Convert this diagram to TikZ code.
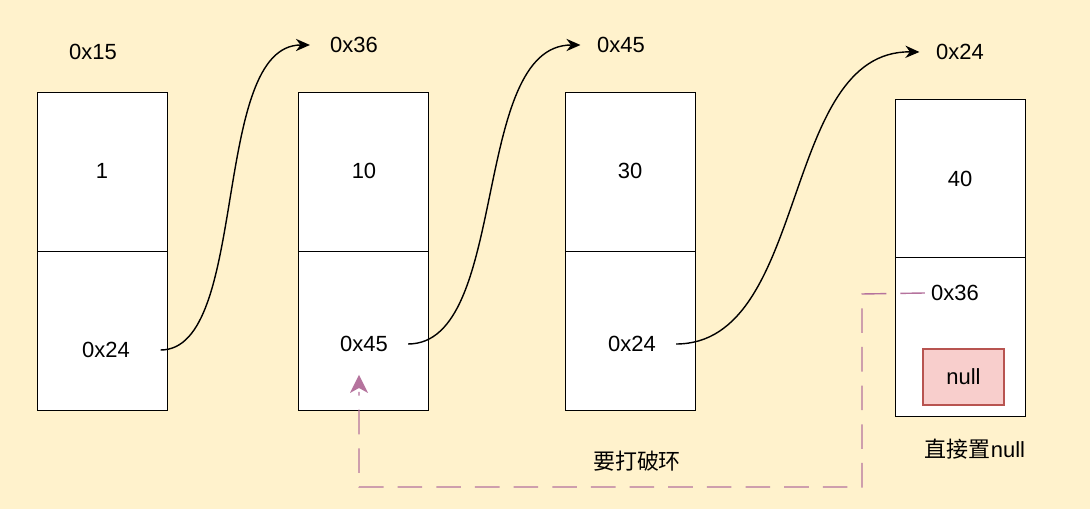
\documentclass[tikz,border=0pt]{standalone}
\usepackage{fontspec}
\setmainfont{Liberation Sans}
\newfontfamily\cjk{Noto Sans CJK SC}
\usetikzlibrary{arrows.meta,positioning}
\definecolor{bgyellow}{HTML}{FFF2CC}
\definecolor{nullfill}{HTML}{F8CECC}
\definecolor{nulldraw}{HTML}{B85450}
\definecolor{breakline}{HTML}{B5739D}
\tikzset{
  lbl/.style={font=\fontsize{12.5}{15}\selectfont},
  link/.style={-{Stealth[length=8pt,width=7pt]}, thick},
}
\begin{document}
\begin{tikzpicture}[x=0.02cm,y=-0.02cm]
    \fill[bgyellow] (0,0) rectangle (1090,509);

    % list nodes
    \draw[fill=white] (37,92) rectangle (167,410) (37,251) -- (167,251);
    \draw[fill=white] (298,92) rectangle (428,410) (298,251) -- (428,251);
    \draw[fill=white] (565,92) rectangle (695,410) (565,251) -- (695,251);
    \draw[fill=white] (895,99) rectangle (1025,416) (895,257) -- (1025,257);
    \node[lbl] (vala) at (102,171) {1};
    \node[lbl] (valb) at (364,171) {10};
    \node[lbl] (valc) at (630,171) {30};
    \node[lbl] (vald) at (960,179) {40};

    % addresses
    \node[lbl] (adra) at (93,52) {0x15};
    \node[lbl] (adrb) at (354,45) {0x36};
    \node[lbl] (adrc) at (621,45) {0x45};
    \node[lbl] (adrd) at (960,52) {0x24};

    % next pointers
    \node[lbl] (nexta) at (106,350) {0x24};
    \node[lbl] (nextb) at (364,344) {0x45};
    \node[lbl] (nextc) at (632,344) {0x24};
    \node[lbl] (nextd) at (955,293) {0x36};
    \node[draw=nulldraw, fill=nullfill, thick, minimum width=1.62cm, minimum height=1.12cm, lbl] (null) at (963.5,377) {null};

    % links
    \draw[link] ([xshift=14pt]nexta.east) .. controls (250,350) and (210,45) .. ([xshift=-8pt]adrb.west);
    \draw[link] ([xshift=8pt]nextb.east) .. controls (510,344) and (470,45) .. ([xshift=-6pt]adrc.west);
    \draw[link] ([xshift=8pt]nextc.east) .. controls (810,344) and (780,50) .. ([xshift=-6pt]adrd.west);

    % cycle to break
    \coordinate (tip) at (359,375);
    \draw[breakline, thick, dash pattern=on 14pt off 8pt] (nextd.west) -- (862,294) -- (862,487) -- (359,487) -- (359,392);
    \fill[breakline] (tip) -- (368,393) -- (359,388) -- (350,393) -- cycle;

    \node[lbl] (brk) at (637,461) {\cjk 要打破环};
    \node[lbl] (setnull) at (975,449) {\cjk 直接置\rmfamily null};
\end{tikzpicture}
\end{document}
